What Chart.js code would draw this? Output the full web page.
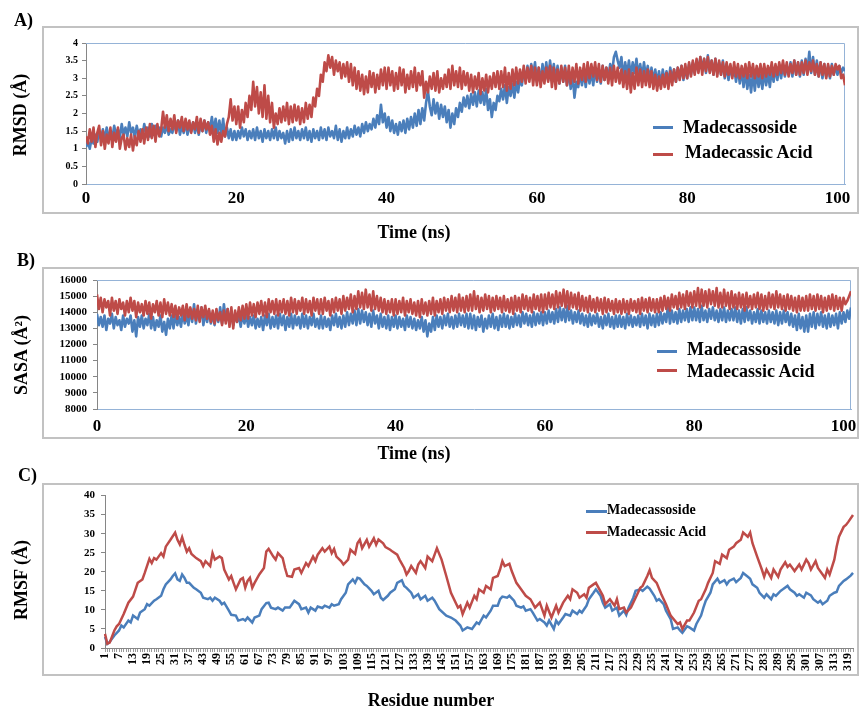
<!DOCTYPE html>
<html>
<head>
<meta charset="utf-8">
<script src="https://cdn.jsdelivr.net/npm/chart.js@4.4.1/dist/chart.umd.min.js"></script>
<style>
html, body { margin: 0; padding: 0; background: #fff; overflow: hidden; }
#page { position: relative; width: 859px; height: 708px; overflow: hidden; background: #fff;
        font-family: "Liberation Serif", "Times New Roman", serif; font-weight: bold; color: #000; }
.box { position: absolute; border: 2px solid #c2c2c2; box-sizing: border-box; }
canvas { position: absolute; left: 0; }
.txt { position: absolute; white-space: nowrap; line-height: 1; }
.ctr { position: absolute; white-space: nowrap; line-height: 1; transform: translate(-50%, -50%); }
.rot { position: absolute; white-space: nowrap; line-height: 1; transform: translate(-50%, -50%) rotate(-90deg); }
.sw { position: absolute; height: 3px; }
</style>
</head>
<body>
<div id="page">
  <div class="box" style="left:42px; top:26px; width:817px; height:188px;"></div>
  <div class="box" style="left:42px; top:267px; width:817px; height:172px;"></div>
  <div class="box" style="left:42px; top:483px; width:817px; height:193px;"></div>

  <canvas id="rmsd" width="870" height="200" style="top:26px;"></canvas>
  <canvas id="sasa" width="870" height="190" style="top:267px;"></canvas>
  <canvas id="rmsf" width="870" height="225" style="top:483px;"></canvas>

  <div class="txt" style="left:14px; top:11px; font-size:18px;">A)</div>
  <div class="txt" style="left:17px; top:251px; font-size:18px;">B)</div>
  <div class="txt" style="left:18px; top:466px; font-size:18px;">C)</div>

  <div class="rot" style="left:20px; top:115px; font-size:18px;">RMSD (Å)</div>
  <div class="rot" style="left:21px; top:355px; font-size:18px;">SASA (Å²)</div>
  <div class="rot" style="left:21px; top:580px; font-size:18px;">RMSF (Å)</div>

  <div class="ctr" style="left:414px; top:232px; font-size:18px;">Time (ns)</div>
  <div class="ctr" style="left:414px; top:453px; font-size:18px;">Time (ns)</div>
  <div class="ctr" style="left:431px; top:700px; font-size:18px;">Residue number</div>

  <div class="sw" style="left:653px; top:126px; width:20px; background:#4a7ebb;"></div>
  <div class="txt" style="left:683px; top:118px; font-size:18px;">Madecassoside</div>
  <div class="sw" style="left:653px; top:153px; width:20px; background:#be4b48;"></div>
  <div class="txt" style="left:685px; top:143px; font-size:18px;">Madecassic Acid</div>

  <div class="sw" style="left:657px; top:350px; width:20px; background:#4a7ebb;"></div>
  <div class="txt" style="left:687px; top:340px; font-size:18px;">Madecassoside</div>
  <div class="sw" style="left:657px; top:369px; width:20px; background:#be4b48;"></div>
  <div class="txt" style="left:687px; top:362px; font-size:18px;">Madecassic Acid</div>

  <div class="sw" style="left:586px; top:510px; width:21px; background:#4a7ebb;"></div>
  <div class="txt" style="left:607px; top:503px; font-size:14px;">Madecassoside</div>
  <div class="sw" style="left:586px; top:531px; width:21px; background:#be4b48;"></div>
  <div class="txt" style="left:607px; top:525px; font-size:14px;">Madecassic Acid</div>
</div>

<script>
const blue = "#4a7ebb";
const red = "#be4b48";
const axis_gray = "#868686";
const frame_blue = "#95b3d7";
const serif = '"Liberation Serif", "Times New Roman", serif';

/* A) RMSD (Å), one value every 0.25 ns, one row = 5 ns */
const rmsdMadecassoside = [
    1.05,1.2,1.0,1.3,1.15,1.4,1.2,1.5,1.3,1.55,1.25,1.6,1.35,1.45,1.3,1.65,1.4,1.55,1.3,1.7,
    1.4,1.6,1.35,1.75,1.45,1.6,1.3,1.65,1.4,1.55,1.35,1.7,1.45,1.6,1.35,1.7,1.4,1.65,1.45,1.6,
    1.35,1.6,1.45,1.7,1.4,1.55,1.45,1.75,1.5,1.8,1.4,1.65,1.45,1.75,1.4,1.6,1.5,1.75,1.45,1.7,
    1.4,1.7,1.5,1.8,1.45,1.75,1.55,1.9,1.5,1.85,1.45,1.8,1.4,1.85,1.35,1.6,1.3,1.55,1.25,1.5,
    1.25,1.5,1.3,1.6,1.35,1.55,1.25,1.5,1.3,1.55,1.25,1.6,1.3,1.5,1.2,1.55,1.3,1.5,1.25,1.55,
    1.3,1.6,1.25,1.5,1.3,1.45,1.15,1.5,1.2,1.55,1.25,1.6,1.3,1.5,1.25,1.55,1.3,1.6,1.25,1.5,
    1.2,1.55,1.3,1.5,1.25,1.6,1.3,1.55,1.25,1.6,1.35,1.5,1.3,1.65,1.25,1.55,1.2,1.5,1.3,1.6,
    1.3,1.55,1.35,1.65,1.4,1.6,1.35,1.7,1.45,1.75,1.5,1.7,1.55,1.85,1.6,1.95,1.7,2.25,1.75,2.0,
    1.6,1.9,1.5,1.8,1.45,1.7,1.4,1.75,1.5,1.8,1.45,1.85,1.55,1.9,1.6,2.0,1.65,2.1,1.7,2.15,
    1.8,2.3,2.65,2.2,1.95,2.4,2.0,2.3,1.85,2.25,1.9,2.2,1.75,2.1,1.6,2.0,1.7,2.15,1.9,2.3,
    2.05,2.45,2.2,2.5,2.15,2.55,2.25,2.6,2.2,2.65,2.3,2.6,2.25,2.7,2.1,2.4,1.9,2.3,2.1,2.5,
    2.35,2.7,2.4,2.8,2.3,2.75,2.5,2.85,2.45,2.9,2.6,3.0,2.8,3.25,2.95,3.35,3.0,3.4,3.1,3.45,
    2.9,3.3,2.85,3.4,3.0,3.45,2.95,3.5,3.05,3.4,2.95,3.35,2.85,3.3,2.9,3.35,2.8,3.2,2.7,3.1,
    2.45,2.9,2.75,3.15,2.8,3.2,2.75,3.25,2.85,3.2,2.8,3.3,2.9,3.25,2.85,3.35,2.95,3.3,3.0,3.4,
    3.15,3.6,3.75,3.5,3.3,3.6,3.0,3.45,3.1,3.5,3.05,3.45,3.15,3.55,3.1,3.4,3.0,3.45,3.05,3.35,
    2.95,3.3,2.9,3.25,2.85,3.2,2.8,3.25,2.9,3.2,2.85,3.3,2.95,3.25,2.9,3.3,3.0,3.35,2.95,3.3,
    3.0,3.4,3.1,3.45,3.15,3.5,3.2,3.6,3.25,3.55,3.15,3.65,3.2,3.5,3.1,3.55,3.15,3.45,3.1,3.5,
    3.0,3.4,2.95,3.35,3.05,3.3,2.9,3.3,2.85,3.25,2.75,3.2,2.7,3.1,2.6,3.15,2.65,3.2,2.75,3.1,
    2.7,3.2,2.8,3.15,2.75,3.25,2.9,3.3,2.95,3.35,3.0,3.4,3.05,3.35,3.1,3.45,3.05,3.5,3.1,3.45,
    3.05,3.5,3.1,3.55,3.2,3.75,3.15,3.6,3.1,3.5,3.05,3.45,3.0,3.4,3.05,3.35,3.0,3.4,3.1,3.35,
    3.1,3.35,3.15,3.3,3.2
];
const rmsdMadecassicAcid = [
    1.35,1.15,1.55,1.2,1.6,1.05,1.45,1.65,1.1,1.5,1.0,1.4,1.15,1.6,1.05,1.45,1.2,1.6,1.0,1.3,
    1.4,0.98,1.3,1.05,1.4,0.95,1.35,1.1,1.5,1.2,1.55,1.15,1.6,1.25,1.7,1.3,1.65,1.2,1.7,1.35,
    1.55,2.05,1.6,1.95,1.5,1.85,1.55,1.95,1.45,1.8,1.6,1.9,1.5,1.85,1.55,1.8,1.45,1.75,1.55,1.9,
    1.45,1.85,1.5,1.8,1.55,1.75,1.4,1.65,1.2,1.55,1.12,1.45,1.2,1.5,1.35,1.7,1.9,2.4,1.8,2.2,
    1.7,2.2,1.6,2.1,1.75,2.3,1.9,2.5,2.1,2.9,2.2,2.75,2.0,2.6,1.9,2.8,1.85,2.5,1.75,2.3,
    1.6,2.0,1.7,2.15,1.75,2.2,1.8,2.3,1.7,2.2,1.75,2.25,1.8,2.2,1.7,2.15,1.75,2.3,1.85,2.25,
    1.9,2.45,2.2,2.7,2.5,3.1,2.9,3.45,3.2,3.65,3.3,3.6,3.1,3.5,3.2,3.45,3.0,3.4,3.05,3.45,
    2.9,3.4,2.8,3.3,2.7,3.2,2.65,3.1,2.55,3.05,2.6,3.2,2.75,3.15,2.6,3.1,2.7,3.25,2.8,3.3,
    2.7,3.3,2.8,3.2,2.65,3.15,2.7,3.3,2.8,3.25,2.6,3.1,2.7,3.2,2.75,3.3,2.65,3.15,2.8,3.2,
    2.45,2.9,2.6,3.05,2.7,3.15,2.65,3.2,2.6,3.0,2.7,3.1,2.75,3.25,2.7,3.35,2.8,3.2,2.75,3.3,
    2.7,3.2,2.8,3.15,2.65,3.1,2.6,3.05,2.7,3.15,2.55,3.0,2.65,3.1,2.6,3.05,2.7,3.15,2.75,3.2,
    2.7,3.2,2.75,3.3,2.65,3.15,2.7,3.25,2.8,3.3,2.85,3.25,2.9,3.35,2.85,3.3,2.9,3.35,2.8,3.3,
    2.8,3.3,2.75,3.2,2.85,3.3,2.9,3.35,2.75,3.3,2.7,3.25,2.85,3.35,2.9,3.3,2.8,3.35,2.85,3.3,
    2.9,3.4,2.85,3.3,2.95,3.4,2.9,3.45,3.0,3.4,3.05,3.45,2.95,3.4,2.9,3.35,2.95,3.3,2.85,3.3,
    2.8,3.35,2.9,3.3,2.85,3.25,2.75,3.2,2.7,3.25,2.6,3.15,2.7,3.3,2.8,3.25,2.75,3.2,2.8,3.25,
    2.75,3.2,2.7,3.1,2.65,3.05,2.7,3.1,2.75,3.15,2.7,3.2,2.8,3.25,2.9,3.3,2.95,3.35,3.0,3.4,
    3.0,3.45,3.05,3.5,3.1,3.55,3.15,3.6,3.1,3.55,3.2,3.6,3.15,3.5,3.1,3.55,3.05,3.5,3.1,3.45,
    3.05,3.45,3.1,3.4,3.0,3.45,3.05,3.4,3.0,3.35,3.05,3.4,3.0,3.45,3.05,3.4,3.0,3.35,3.05,3.4,
    3.0,3.4,3.05,3.35,3.1,3.45,3.05,3.4,3.1,3.45,3.15,3.5,3.1,3.45,3.05,3.4,3.15,3.5,3.1,3.45,
    3.1,3.45,3.15,3.5,3.1,3.45,3.2,3.5,3.1,3.4,3.05,3.45,3.1,3.4,3.0,3.4,3.05,3.35,3.1,3.4,
    3.25,3.35,3.0,3.1,2.8
];

/* B) SASA (Å²), one value every 0.25 ns, one row = 5 ns */
const sasaMadecassoside = [
    13900,13200,13700,13100,13800,12900,13600,13300,13900,13000,13700,13200,13500,12900,13800,13100,13600,13300,13800,12800,
    13500,12500,13700,13100,13800,13000,13600,13200,13900,13000,13700,12900,13500,13100,13800,12800,13400,12600,13600,13000,
    13800,13000,13900,13200,13700,13100,14000,13300,13800,13200,14200,13400,14500,13300,14100,13500,14300,13200,14000,13400,
    14100,13300,13900,13200,14000,13400,14300,13300,14500,13500,14200,13300,14000,13200,13900,13400,13800,13100,13900,13300,
    13900,13100,13700,13200,13800,13000,13600,13100,13700,12900,13800,13200,13900,13000,13700,13100,13800,13000,13900,13200,
    13800,12900,13700,13100,13900,13000,13800,13200,13700,13000,13900,13100,13800,13000,13700,13200,13900,13100,13600,13000,
    13800,13000,13700,13100,13600,12900,13800,13200,13900,13100,13700,13000,13800,13100,14000,13200,13900,13300,14100,13200,
    14200,13300,14100,13400,14000,13200,13900,13100,14100,13300,13800,13000,13900,13100,13700,13000,13800,12900,13700,13100,
    13800,13000,13700,13100,13600,12900,13800,13100,13700,13000,13600,12900,13500,13000,13700,12800,13500,12500,13300,12800,
    13700,12900,13800,13100,13700,13000,13800,13200,13900,13100,13700,13000,13800,13100,13900,13200,13800,13100,13900,13000,
    13900,13000,13800,12900,13700,13100,13800,12800,13600,13000,13800,13100,13900,13000,13700,12900,13800,13100,13900,13100,
    13800,13000,13700,13100,13900,13200,13800,13100,14000,13300,13900,13200,13800,13100,14000,13200,13900,13300,14000,13200,
    14000,13300,14100,13400,14000,13300,14200,13400,14300,13500,14200,13400,14400,13500,14100,13300,14000,13400,14100,13300,
    13900,13200,13800,13100,13900,13200,13800,13300,13900,13100,13700,13000,13800,13200,13900,13100,13700,13000,13800,13100,
    13800,13100,13700,13000,13900,13200,13800,13100,13700,13200,13800,13100,13900,13200,13800,13000,13900,13200,13800,13100,
    13900,13200,14000,13300,13900,13400,14500,13300,14100,13400,14000,13300,14200,13400,14100,13500,14200,13400,14300,13500,
    14300,13500,14200,13400,14400,13500,14100,13400,14200,13600,14300,13500,14100,13400,14200,13500,14300,13400,14100,13500,
    14200,13500,14300,13400,14100,13300,14200,13400,14300,13500,14100,13300,14000,13400,14200,13300,14100,13400,14000,13300,
    14100,13400,14000,13300,14100,13200,14000,13300,14100,13400,14000,13200,13900,13100,13800,12900,13900,13000,13700,12800,
    13800,12800,13900,13100,14000,13000,13900,13200,14000,13100,13800,13000,13900,13100,13800,13200,13900,13000,14000,13300,
    14000,13400,14100,13600,14300
];
const sasaMadecassicAcid = [
    15100,14200,14900,14000,14800,14300,14700,13800,14900,14100,14700,13900,14800,14200,14600,13800,14700,14000,14900,14100,
    14700,13700,14600,14000,14500,13800,14700,13900,14600,13600,14500,14000,14700,13800,14600,13700,14800,13900,14600,13800,
    14500,13700,14400,13600,14300,13800,14400,13500,14500,13700,14300,13600,14200,13500,14400,13400,14300,13700,14400,13600,
    14200,13400,14100,13300,14200,13500,14000,13200,14100,13300,14200,13100,14300,13000,14100,13400,14300,13500,14400,13600,
    14500,13600,14600,13800,14500,13700,14600,13900,14700,13800,14600,13700,14800,14000,14700,13900,14800,13800,14700,14000,
    14800,13900,14700,13800,14900,14000,14800,13900,14700,14100,14900,13900,14800,14000,14700,13800,14900,14100,14800,13900,
    14800,13900,14900,14100,14700,13800,14800,14000,14900,14100,14800,13900,15000,14100,14900,14200,15100,14000,15000,14200,
    15300,14300,15200,14200,15400,14300,15100,14100,15300,14200,15000,14100,14900,14000,14800,13900,14700,14000,14800,13800,
    14800,13900,14700,14000,14900,13800,14700,14000,14800,13900,14600,13800,14700,13700,14800,13900,14600,13800,14700,13900,
    14900,13800,14700,14000,14800,13900,14900,14100,14800,14000,15000,14100,14900,14000,15100,14100,14900,14000,15000,14100,
    15100,14100,15300,14200,15000,14000,14900,14100,15100,14200,15000,14000,14900,14100,15000,14200,14900,14000,15000,14100,
    14800,14000,14900,13900,15000,14100,14900,14000,15100,14200,15000,14100,14900,14000,15100,14200,15000,14100,15100,14000,
    15100,14200,15200,14300,15100,14200,15300,14300,15200,14400,15400,14300,15300,14200,15200,14300,15100,14200,15200,14100,
    15000,14100,14900,14000,15000,14100,14800,14000,14900,14100,14800,13900,14900,14000,14800,14100,14700,13900,14800,14000,
    14700,13900,14800,14000,14700,13900,14800,14100,14700,14000,14800,13900,14900,14100,14800,14000,14900,14100,14800,14000,
    14800,14000,14900,14100,15000,14200,14900,14100,15100,14300,15000,14200,15200,14300,15100,14200,15300,14400,15200,14300,
    15300,14400,15500,14300,15400,14400,15300,14300,15400,14500,15300,14400,15500,14300,15200,14300,15400,14400,15200,14200,
    15300,14300,15100,14200,15200,14300,15100,14100,15200,14300,15000,14200,15100,14300,15200,14200,15100,14100,15000,14200,
    15200,14300,15100,14200,15300,14300,15100,14200,15000,14100,15100,14200,15000,14100,14900,14000,15000,14100,14900,14100,
    15000,14100,15100,14200,15000,14100,15100,14200,15000,14000,14900,14100,15000,14200,15100,14100,15000,14200,14900,14100,
    14900,14500,14700,15000,15300
];
const frame_step_ns = 0.25;
const timeNs = rmsdMadecassoside.map((_, i) => i * frame_step_ns);
const timeTicks = [0, 20, 40, 60, 80, 100];

/* C) RMSF (Å) per residue */
const rmsfResMadecassoside = [
    1,2,3,5,7,8,9,11,12,13, 15,16,18,19,20,22,23,25,26,27,
    29,30,31,32,33,34,35,36,37,39, 40,42,43,45,46,47,48,50,51,52,
    54,55,57,58,60,61,62,64,65,67, 68,70,71,72,74,75,77,78,80,81,
    82,84,85,87,88,89,91,92,94,95, 97,98,99,101,102,104,105,107,108,109,
    110,112,113,115,116,118,119,120,122,123, 125,126,128,129,130,132,133,135,136,138,
    139,141,142,144,147,149,151,153,154,156, 158,160,161,163,164,166,167,169,170,171,
    173,174,176,177,179,180,181,183,184,186, 187,189,190,191,193,194,195,197,198,200,
    201,203,204,205,207,208,210,211,213,214, 215,217,218,220,221,223,224,225,227,228,
    230,231,233,234,236,237,238,240,241,243, 244,246,247,248,250,251,253,254,256,257,
    258,260,261,263,264,266,267,268,270,271, 273,274,276,277,278,280,281,283,284,286,
    287,288,290,291,293,294,296,297,298,300, 301,303,304,306,307,308,310,311,313,314,
    315,317,318,320,321
];
const rmsfMadecassoside = [
    2.9,1.1,1.6,3.3,4.6,5.9,5.4,7.2,6.7,8.5, 7.6,9.3,10.2,11.5,11.1,12.4,12.8,13.7,15.4,16.7,
    18,18.9,19.6,18,17.6,19.3,18.4,17.1,17.1,15.8, 15.4,14.5,13.2,12.8,13.2,12.4,13.2,12.4,11.5,11.9,
    9.8,8.7,8.5,7.2,7.6,7.2,8,6.7,8,8.5, 10.2,11.8,11.9,10.6,10.2,10.6,9.8,10.6,10.6,11.5,
    12.4,11.5,10.2,10.6,9.3,10.6,9.8,10.9,10.5,11.1, 10.6,11.5,11.1,11.5,12.8,14.5,16.7,18,17.1,18.4,
    18.2,16.7,16.3,15,14.1,15,13.2,12.6,13.7,14.5, 15.4,17.1,17.8,16.3,15.8,14.5,13.2,14.1,12.8,13.7,
    12.4,13.2,12.4,10.2,8.5,8,7.2,5.9,4.6,5.4, 5,6.7,6.3,8.5,8,9.8,11.1,11.1,12.8,13.5,
    13.2,13.7,12.4,11.1,10.6,10.9,9.8,10.2,9.3,7.2, 7.6,6.7,5.9,7.2,5,7.2,6.3,8,8.9,8.5,
    9.8,8.9,9.8,9.3,11.1,12.8,14.5,15.4,13.7,11.9, 10.6,11.5,9.8,10.6,8.5,9.8,8.7,10.6,13.2,15,
    15.4,15,16.1,15.6,13.7,12.4,12.8,11.5,9.8,7.6, 5,5.4,4.6,4,5.7,5.4,4.6,6.3,8.5,10.6,
    12.4,14.5,16.7,18.2,17.1,17.8,16.7,17.6,18.2,17.3, 18.4,19.7,18.7,18.2,16.7,15.8,14.5,13.2,14.1,12.8,
    14.1,13.7,15,15.4,16.3,15.4,14.5,13.7,14.1,13.2, 14.5,13.8,12.8,11.9,12.4,11.5,12.4,13.7,14.5,14.7,
    16.3,17.6,18,19,19.7
];
const rmsfResMadecassicAcid = [
    1,2,3,5,6,7,9,11,13,15, 17,18,20,21,22,23,25,26,27,29,
    31,32,33,34,35,36,37,38,40,42, 43,44,46,47,48,50,51,52,54,55,
    56,57,59,60,61,62,63,64,65,67, 69,70,71,73,74,75,77,78,79,81,
    82,84,85,87,88,90,91,92,94,95, 97,98,99,100,102,103,105,106,108,109,
    110,111,113,114,116,117,118,120,121,123, 124,126,127,129,130,131,132,134,135,136,
    138,139,141,143,145,147,149,152,153,154, 156,157,159,160,161,163,164,166,167,169,
    170,171,172,174,175,177,179,181,183,185, 187,189,190,192,194,195,197,199,200,201,
    203,204,206,207,208,210,211,214,215,217, 219,220,221,223,224,226,228,230,231,233,
    234,235,237,239,241,243,246,247,248,250, 251,253,255,256,258,259,261,262,264,265,
    267,268,270,271,273,274,276,277,278,280, 282,283,284,286,287,289,290,292,293,294,
    296,298,299,301,302,303,305,306,308,309, 310,311,313,314,315,317,318,319,321
];
const rmsfMadecassicAcid = [
    3.7,1.1,1.4,4.6,5.7,6.3,8.9,11.9,13.5,17.1, 18,19.7,23.4,22.3,23.6,23.2,24.9,24,26.6,28.4,
    30.3,28.4,27.2,29.1,27.1,25.3,26.2,24.7,23.6,22.8, 21.5,22.8,21.5,24.9,23.2,24,23.6,20.6,18,18.9,
    17.1,15.4,18,18.4,15.8,17.6,18.4,15.8,17.1,19.3, 21,25.3,26,24,23.2,24.9,23.6,21,18.9,18.7,
    20.6,21,19.7,22.3,21.5,24,22.8,24.5,26.2,25.3, 26.6,24.9,26,24,22.8,21.9,23.2,25.8,24.7,27.5,
    28.4,26.2,28.4,26.6,28.8,27.1,28.5,27.5,26.5,25.8, 25.3,24.5,23.2,21,19.3,20.2,21.5,19.7,21.9,22.8,
    21,24,22.8,26.2,23.2,18.9,14.5,10.6,11.1,8.9, 11.9,10.6,13.7,12.8,15.4,14.5,16.3,15.4,18.4,18.9,
    20.6,22.8,21.5,22.1,20.2,17.1,15.4,13.7,12.8,10.6, 11.9,8.5,11.1,8,11.1,9.3,11.9,13.7,12.8,15.4,
    14.5,13.2,14.1,13.2,15.8,16.7,17.1,13.7,11.5,12.8, 11.1,12.8,10.2,10.6,9.3,10.6,13.2,15.8,16.3,18.9,
    20.4,18.4,17.1,14.1,11.5,8.5,6.3,6.7,5,7.2, 7.2,9.3,12.4,12.8,15.4,17.1,19.7,22.8,22.1,24.5,
    23.6,25.8,26.6,27.5,28.4,30.3,29.2,30.3,27.5,24, 20.6,18.7,20.6,18.4,20.6,18.7,20.6,22.5,21.3,21.9,
    20.2,21.9,20.6,23.2,22.3,20.6,22.8,21,19.3,18.4, 20.6,19.3,23.2,26.6,29.2,31.8,32.3,33.1,34.9
];
const residueCount = 321;
const residues = [];
for (let r = 1; r <= residueCount; r++) {
    residues.push(r);
}
const residueLabelEvery = 6;

/* light blue frame on top and right of the plot area */
const plotFrame = {
    id: "plotFrame",
    beforeDatasetsDraw(chart, args, opts) {
        if (!opts.color) return;
        const a = chart.chartArea;
        const ctx = chart.ctx;
        ctx.save();
        ctx.strokeStyle = opts.color;
        ctx.lineWidth = 1;
        ctx.beginPath();
        ctx.moveTo(a.left, a.top + 0.5);
        ctx.lineTo(a.right - 0.5, a.top + 0.5);
        ctx.lineTo(a.right - 0.5, a.bottom);
        ctx.stroke();
        ctx.restore();
    },
};

function timeChart(id, mad, acid, y, fit) {
    return new Chart(document.getElementById(id), {
        type: "line",
        data: {
            labels: timeNs,
            datasets: [
                { label: "Madecassoside", data: mad, borderColor: blue, borderWidth: 2.6,
                  borderJoinStyle: "round", pointRadius: 0, order: 2 },
                { label: "Madecassic Acid", data: acid, borderColor: red, borderWidth: 2.6,
                  borderJoinStyle: "round", pointRadius: 0, order: 1 },
            ],
        },
        options: {
            responsive: false,
            animation: false,
            devicePixelRatio: 1,
            layout: { padding: fit.pad },
            plugins: {
                legend: { display: false },
                tooltip: { enabled: false },
                plotFrame: { color: frame_blue },
            },
            scales: {
                x: {
                    type: "linear",
                    min: 0,
                    max: 101,
                    afterFit: (s) => { s.height = fit.xh; },
                    afterBuildTicks: (s) => { s.ticks = timeTicks.map((v) => ({ value: v })); },
                    ticks: {
                        maxRotation: 0,
                        padding: fit.xpad,
                        color: "#000",
                        font: { family: serif, size: 17, weight: "bold" },
                        callback: (v) => String(v),
                    },
                    grid: { display: false },
                    border: { display: true, color: frame_blue, width: 1 },
                },
                y: {
                    min: y.min,
                    max: y.max,
                    afterFit: (s) => { s.width = fit.yw; },
                    ticks: {
                        stepSize: y.step,
                        autoSkip: false,
                        padding: fit.ypad,
                        color: "#000",
                        font: { family: serif, size: fit.yfont, weight: "bold" },
                        callback: (v) => String(v),
                    },
                    grid: { drawOnChartArea: false, drawTicks: true, tickLength: 4, color: axis_gray },
                    border: { display: true, color: axis_gray, width: 1 },
                },
            },
        },
        plugins: [plotFrame],
    });
}

timeChart("rmsd", rmsdMadecassoside, rmsdMadecassicAcid,
    { min: 0, max: 4, step: 0.5 },
    { pad: { left: 0, top: 17, right: 25, bottom: 0 }, xh: 42, yw: 86, xpad: -4, ypad: 4, yfont: 10 });

timeChart("sasa", sasaMadecassoside, sasaMadecassicAcid,
    { min: 8000, max: 16000, step: 1000 },
    { pad: { left: 0, top: 13, right: 19, bottom: 0 }, xh: 48, yw: 97, xpad: -1, ypad: 6, yfont: 11 });

const toPoints = (res, vals) => res.map((r, i) => ({ x: r, y: vals[i] }));

new Chart(document.getElementById("rmsf"), {
    type: "line",
    data: {
        labels: residues,
        datasets: [
            { label: "Madecassoside", data: toPoints(rmsfResMadecassoside, rmsfMadecassoside),
              borderColor: blue, borderWidth: 2.5, pointRadius: 0, order: 2 },
            { label: "Madecassic Acid", data: toPoints(rmsfResMadecassicAcid, rmsfMadecassicAcid),
              borderColor: red, borderWidth: 2.5, pointRadius: 0, order: 1 },
        ],
    },
    options: {
        responsive: false,
        animation: false,
        devicePixelRatio: 1,
        layout: { padding: { left: 0, top: 10, right: 17, bottom: 0 } },
        plugins: { legend: { display: false }, tooltip: { enabled: false } },
        scales: {
            x: {
                type: "category",
                offset: false,
                afterFit: (s) => { s.height = 60; },
                ticks: {
                    autoSkip: false,
                    minRotation: 90,
                    maxRotation: 90,
                    padding: 1,
                    color: "#000",
                    font: { family: serif, size: 12, weight: "bold" },
                    callback: (v, i) => (i % residueLabelEvery === 0 ? String(residues[i]) : ""),
                },
                grid: { drawOnChartArea: false, drawTicks: true, tickLength: 4, color: "#9a9a9a" },
                border: { display: true, color: axis_gray, width: 1 },
            },
            y: {
                min: 0,
                max: 40,
                afterFit: (s) => { s.width = 105; },
                ticks: {
                    stepSize: 5,
                    autoSkip: false,
                    padding: 6,
                    color: "#000",
                    font: { family: serif, size: 11, weight: "bold" },
                },
                grid: { drawOnChartArea: false, drawTicks: true, tickLength: 4, color: axis_gray },
                border: { display: true, color: axis_gray, width: 1 },
            },
        },
    },
});
</script>
</body>
</html>
